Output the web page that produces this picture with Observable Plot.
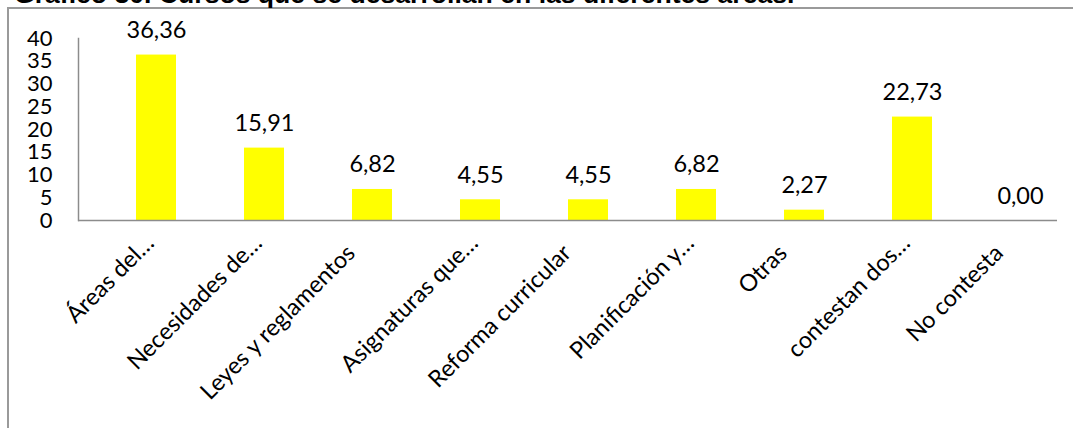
<!DOCTYPE html>
<html lang="es">
<head>
<meta charset="utf-8">
<script src="https://cdn.jsdelivr.net/npm/d3@7"></script>
<script src="https://cdn.jsdelivr.net/npm/@observablehq/plot@0.6"></script>
<style>
  html, body { margin: 0; padding: 0; background: #fff; }
  #wrap { position: relative; width: 1073px; height: 428px; overflow: hidden; background: #fff; }
  #chart { position: absolute; left: 0; top: 0; }
  #box {
    position: absolute; left: 7px; top: 7px; width: 2000px; height: 1000px;
    border-left: 2px solid #9a9a9a; border-top: 2px solid #9a9a9a;
  }
  #title {
    position: absolute; left: 14px; top: -19px; white-space: nowrap;
    font: bold 26.6px/26.6px "Liberation Sans", Arial, sans-serif; color: #000;
  }
</style>
</head>
<body>
<div id="wrap">
  <div id="chart"></div>
  <div id="box"></div>
  <div id="title">Gráfico 30. Cursos que se desarrollan en las diferentes áreas.</div>
</div>
<script>
// Courses by area (percent of respondents)
const categories = [
  "Áreas del…",
  "Necesidades de…",
  "Leyes y reglamentos",
  "Asignaturas que…",
  "Reforma curricular",
  "Planificación y…",
  "Otras",
  "contestan dos…",
  "No contesta"
];
const values = [36.36, 15.91, 6.82, 4.55, 4.55, 6.82, 2.27, 22.73, 0.00];
const yTicks = [0, 5, 10, 15, 20, 25, 30, 35, 40];

const data = categories.map((c, i) => ({category: c, value: values[i]}));
const fmt = v => d3.format(".2f")(v).replace(".", ",");
const truncated = d => d.category.endsWith("…");

const font = "Lato, 'Open Sans', sans-serif";
const axisGray = "#8c8c8c";

const chart = Plot.plot({
  width: 1073,
  height: 428,
  marginLeft: 78,
  marginRight: 16,
  marginTop: 38,
  marginBottom: 208,
  style: {fontFamily: font, fontSize: "23.5px", color: "#000", background: "transparent"},
  x: {
    type: "band",
    domain: categories,
    range: [97.6, 1077.3],
    paddingInner: 0.632,
    paddingOuter: 0.316,
    axis: null
  },
  y: {domain: [0, 40], axis: null},
  marks: [
    Plot.barY(data, {x: "category", y: "value", fill: "#ffff00"}),
    Plot.frame({anchor: "left", stroke: axisGray, strokeWidth: 1.5}),
    Plot.ruleY([0], {stroke: axisGray, strokeWidth: 1.5}),
    Plot.axisY({
      ticks: yTicks, tickSize: 0, tickPadding: 26, label: null,
      fontSize: 22, fontFamily: font, fill: "#000"
    }),
    // value labels above each bar
    Plot.text(data, {
      x: "category", y: "value", text: d => fmt(d.value),
      lineAnchor: "bottom", dy: -17, fontSize: 23.5, fontFamily: font, fill: "#000"
    }),
    // rotated category labels
    Plot.text(data.filter(truncated), {
      x: "category", text: "category", frameAnchor: "bottom",
      rotate: -45, textAnchor: "end", lineAnchor: "bottom",
      dx: -1, dy: 24, fontSize: 23.5, fontFamily: font, fill: "#000"
    }),
    Plot.text(data.filter(d => !truncated(d)), {
      x: "category", text: "category", frameAnchor: "bottom",
      rotate: -45, textAnchor: "end", lineAnchor: "bottom",
      dx: -16, dy: 34, fontSize: 23.5, fontFamily: font, fill: "#000"
    })
  ]
});

document.getElementById("chart").appendChild(chart);
</script>
</body>
</html>
